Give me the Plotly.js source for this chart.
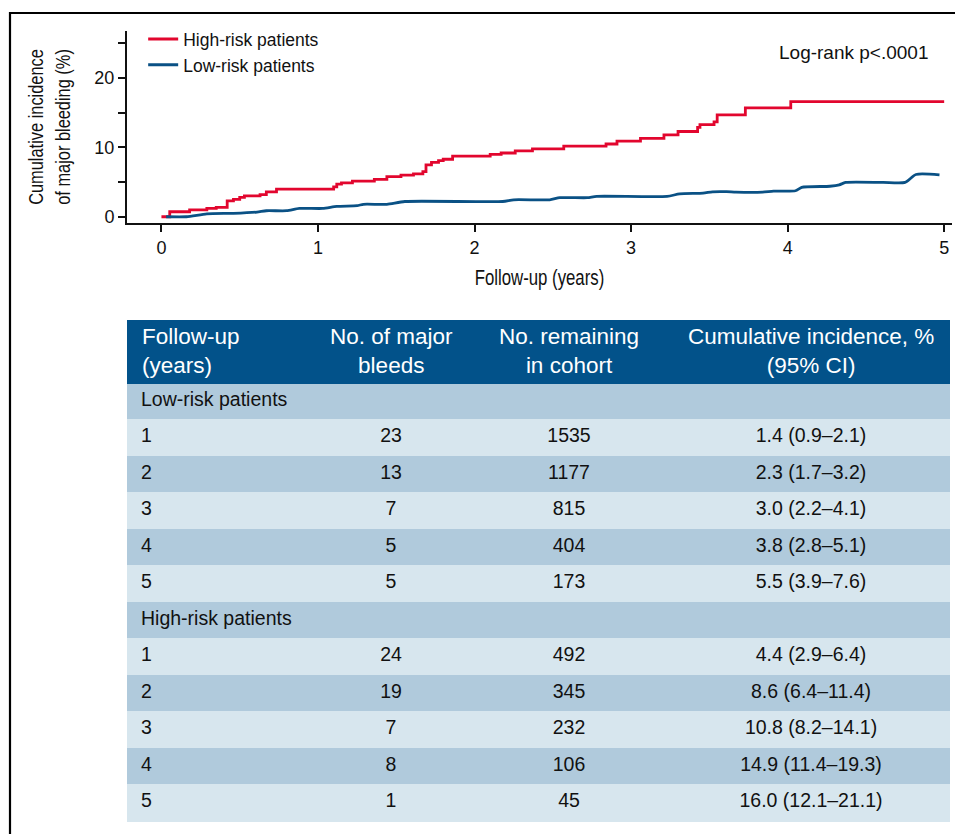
<!DOCTYPE html>
<html>
<head>
<meta charset="utf-8">
<script src="https://cdn.plot.ly/plotly-3.0.1.min.js"></script>
<style>
  html, body { margin: 0; padding: 0; background: #fff; }
  #chart { width: 955px; height: 834px; }
  /* condensed look for the axis titles (no condensed font installed) */
  .g-xtitle { transform-box: fill-box; transform-origin: center; transform: scaleX(0.78); }
  .g-ytitle { transform-box: fill-box; transform-origin: center; transform: scaleY(0.78); }
</style>
</head>
<body>
<div id="chart"></div>
<script>
// ---- Curve data ----
const highRiskTime = [0, 0.053, 0.18, 0.29, 0.35, 0.42, 0.46, 0.5, 0.53, 0.63, 0.67, 0.735, 1.10, 1.12, 1.15, 1.22, 1.36, 1.44, 1.53, 1.61, 1.67, 1.69, 1.725, 1.77, 1.80, 1.86, 2.10, 2.17, 2.26, 2.37, 2.57, 2.84, 2.91, 3.06, 3.21, 3.30, 3.425, 3.44, 3.53, 3.55, 3.73, 4.02, 5.0];
const highRiskInc  = [0, 0.72, 1.0, 1.2, 1.35, 2.3, 2.5, 2.8, 3.0, 3.2, 3.6, 4.0, 4.3, 4.7, 4.9, 5.15, 5.4, 5.8, 6.0, 6.2, 6.5, 7.5, 7.85, 8.1, 8.3, 8.75, 9.0, 9.2, 9.5, 9.8, 10.2, 10.5, 10.9, 11.3, 11.8, 12.3, 12.9, 13.3, 13.7, 14.7, 15.7, 16.6, 16.6];

const lowRiskTime = [0.03, 0.16, 0.29, 0.46, 0.61, 0.67, 0.80, 0.88, 1.03, 1.12, 1.25, 1.29, 1.44, 1.555, 2.18, 2.25, 2.48, 2.545, 2.72, 2.78, 3.23, 3.31, 3.46, 3.52, 3.61, 3.67, 3.84, 3.91, 4.05, 4.09, 4.27, 4.33, 4.37, 4.61, 4.75, 4.82, 4.97];
const lowRiskInc  = [0, 0, 0.43, 0.5, 0.68, 0.87, 0.87, 1.2, 1.2, 1.5, 1.6, 1.8, 1.8, 2.2, 2.2, 2.45, 2.45, 2.75, 2.75, 2.94, 2.94, 3.3, 3.4, 3.6, 3.62, 3.55, 3.55, 3.7, 3.75, 4.25, 4.4, 4.6, 4.95, 4.95, 4.95, 6.1, 6.05];

// ---- Axis ticks ----
const xTickVals = [0, 1, 2, 3, 4, 5];
const yTickVals = [0, 5, 10, 15, 20, 25];
const yTickText = ['0', '', '10', '', '20', ''];

// ---- Table data ----
const tableHeaders = ['Follow-up<br>(years)', 'No. of major<br>bleeds', 'No. remaining<br>in cohort', 'Cumulative incidence, %<br>(95% CI)'];
const followUpYears = ['1', '2', '3', '4', '5'];
const lowBleeds = ['23', '13', '7', '5', '5'];
const lowRemaining = ['1535', '1177', '815', '404', '173'];
const lowCI = ['1.4 (0.9–2.1)', '2.3 (1.7–3.2)', '3.0 (2.2–4.1)', '3.8 (2.8–5.1)', '5.5 (3.9–7.6)'];
const highBleeds = ['24', '19', '7', '8', '1'];
const highRemaining = ['492', '345', '232', '106', '45'];
const highCI = ['4.4 (2.9–6.4)', '8.6 (6.4–11.4)', '10.8 (8.2–14.1)', '14.9 (11.4–19.3)', '16.0 (12.1–21.1)'];

// ---- Styles ----
const RED = '#e2062e';
const BLUE = '#0a5185';
const HEAD_BLUE = '#02528a';
const ROW_DARK = '#b0cadc';
const ROW_LIGHT = '#d7e6ee';
const SANS = 'Liberation Sans, Arial, Helvetica, sans-serif';
const INK = '#111111';

const col1 = ['Low-risk patients'].concat(followUpYears, ['High-risk patients'], followUpYears);
const col2 = [''].concat(lowBleeds, [''], highBleeds);
const col3 = [''].concat(lowRemaining, [''], highRemaining);
const col4 = [''].concat(lowCI, [''], highCI);
const spacer = col1.map(() => '');
const rowFill = col1.map((_, i) => (i % 2 === 0 ? ROW_DARK : ROW_LIGHT));

// layout geometry (pixels)
const W = 955, H = 834, ML = 127, MR = 3, MT = 31, MB = 12;
const PW = W - ML - MR, PH = H - MT - MB;
const px2x = px => (px - ML) / PW;
const px2y = py => (H - MB - py) / PH;

// narrow spacer column first, then the four table columns
const colWidths = [6, 184, 148, 208, 276];
const headerAlign = ['left', 'center', 'center', 'center'];
const tableTopPx = 320, headerH = 63, rowH = 36.5;

let acc = ML + colWidths[0];
const headerAnnotations = tableHeaders.map((txt, i) => {
  const w = colWidths[i + 1];
  const left = acc; acc += w;
  const isLeft = headerAlign[i] === 'left';
  const xpx = isLeft ? left + 7 : left + w / 2;
  return {
    xref: 'paper', yref: 'paper', x: px2x(xpx), y: px2y(tableTopPx + headerH / 2 - 1),
    xanchor: isLeft ? 'left' : 'center', yanchor: 'middle', align: headerAlign[i],
    showarrow: false, text: txt,
    font: { family: SANS, size: 22.5, color: '#ffffff' }
  };
});

const traces = [
  {
    type: 'scatter', mode: 'lines', name: 'High-risk patients',
    x: highRiskTime, y: highRiskInc,
    line: { color: RED, width: 2.8, shape: 'hv' },
    xaxis: 'x', yaxis: 'y', hoverinfo: 'skip'
  },
  {
    type: 'scatter', mode: 'lines', name: 'Low-risk patients',
    x: lowRiskTime, y: lowRiskInc,
    line: { color: BLUE, width: 2.8, shape: 'spline', smoothing: 0.6 },
    xaxis: 'x', yaxis: 'y', hoverinfo: 'skip'
  },
  {
    type: 'table',
    domain: { x: [0, px2x(949)], y: [0, px2y(tableTopPx)] },
    columnwidth: colWidths,
    header: {
      values: colWidths.map(() => ['']),
      fill: { color: HEAD_BLUE },
      line: { width: 1, color: HEAD_BLUE },
      font: { family: SANS, size: 21, color: '#ffffff' },
      height: headerH
    },
    cells: {
      values: [spacer, col1, col2, col3, col4],
      align: ['left', 'left', 'center', 'center', 'center'],
      fill: { color: [rowFill, rowFill, rowFill, rowFill, rowFill] },
      line: { width: 1, color: [rowFill, rowFill, rowFill, rowFill, rowFill] },
      font: { family: SANS, size: 19.5, color: INK },
      height: rowH
    }
  }
];

const layout = {
  width: W, height: H,
  margin: { l: ML, r: MR, t: MT, b: MB, pad: 0 },
  paper_bgcolor: '#ffffff', plot_bgcolor: '#ffffff',
  showlegend: true,
  legend: {
    x: 0.0196, y: 1.0125, xanchor: 'left', yanchor: 'top',
    font: { family: SANS, size: 17.5, color: INK },
    bgcolor: 'rgba(0,0,0,0)', borderwidth: 0, traceorder: 'normal'
  },
  xaxis: {
    domain: [0, 1], anchor: 'y',
    range: [-0.22, 5.05],
    tickvals: xTickVals, ticktext: xTickVals.map(String),
    ticks: 'outside', ticklen: 7, tickwidth: 2, tickcolor: INK,
    showline: true, linewidth: 2, linecolor: INK,
    showgrid: false, zeroline: false,
    tickfont: { family: SANS, size: 18, color: INK },
    title: { text: 'Follow-up (years)', font: { family: SANS, size: 21.5, color: INK }, standoff: 13 }
  },
  yaxis: {
    domain: [px2y(223), 1], anchor: 'x',
    range: [-0.9, 26.8],
    tickvals: yTickVals, ticktext: yTickText,
    ticks: 'outside', ticklen: 7, tickwidth: 2, tickcolor: INK,
    showline: true, linewidth: 2, linecolor: INK,
    showgrid: false, zeroline: false,
    tickfont: { family: SANS, size: 18, color: INK },
    title: { text: 'Cumulative incidence<br>of major bleeding (%)', font: { family: SANS, size: 21, color: INK }, standoff: 18 }
  },
  annotations: [
    {
      xref: 'paper', yref: 'paper', x: px2x(930), y: px2y(52),
      xanchor: 'right', yanchor: 'middle', showarrow: false,
      text: 'Log-rank p<.0001',
      font: { family: SANS, size: 19, color: INK }
    }
  ].concat(headerAnnotations),
  shapes: [
    {
      type: 'path', xref: 'paper', yref: 'paper',
      path: 'M ' + px2x(10) + ',' + px2y(H + 20) + ' L ' + px2x(10) + ',' + px2y(13) + ' L ' + px2x(W + 20) + ',' + px2y(13),
      line: { color: '#000000', width: 2.2 }
    }
  ]
};

Plotly.newPlot('chart', traces, layout, { displayModeBar: false, staticPlot: true });
</script>
</body>
</html>
